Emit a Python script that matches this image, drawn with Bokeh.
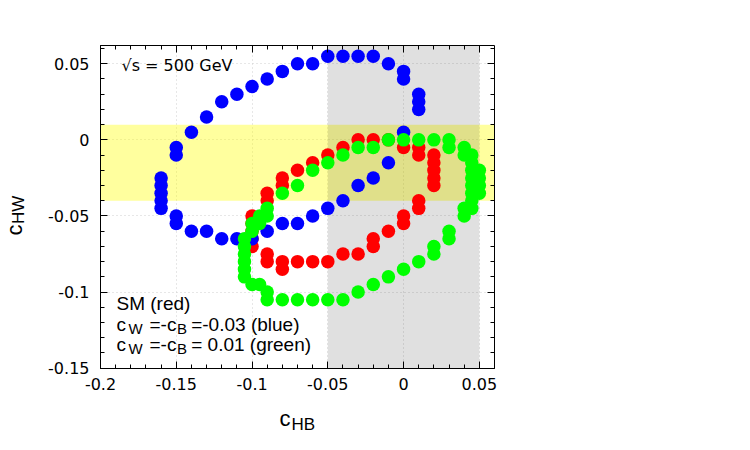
from bokeh.plotting import figure
from bokeh.models import (Range1d, SingleIntervalTicker, LinearAxis, Grid,
                          CustomJSTickFormatter, BoxAnnotation, Label)
from bokeh.embed import file_html
from bokeh.resources import INLINE
import math

# --- scan points in the (c_HB, c_HW) plane -------------------------------
# Standard Model (red)
sm_hb = [-0.09, -0.09, -0.08, -0.08, -0.07, -0.06, -0.05, -0.04, -0.03, -0.02,
         -0.01, 0.00, 0.01, 0.01, 0.02, 0.02, 0.02, 0.02, 0.02,
         0.01, 0.01, 0.00, 0.00, -0.01, -0.02, -0.02, -0.03, -0.04, -0.05,
         -0.06, -0.07, -0.08, -0.08, -0.09, -0.09, -0.10, -0.10, -0.10, -0.10, -0.10]
sm_hw = [-0.035, -0.040, -0.025, -0.030, -0.020, -0.015, -0.010, -0.005, 0.000, 0.000,
         0.000, -0.005, -0.005, -0.010, -0.010, -0.015, -0.020, -0.025, -0.030,
         -0.040, -0.045, -0.050, -0.055, -0.060, -0.065, -0.070, -0.075, -0.075, -0.080,
         -0.080, -0.080, -0.080, -0.085, -0.075, -0.080, -0.070, -0.050, -0.055, -0.060, -0.065]

# c_W = -c_B = -0.03 (blue)
blue_hb = [-0.16, -0.16, -0.16, -0.16, -0.16, -0.15, -0.15, -0.14, -0.13, -0.12,
           -0.11, -0.10, -0.09, -0.08, -0.07, -0.06, -0.05, -0.04, -0.03, -0.02,
           -0.01, 0.00, 0.00, 0.01, 0.01, 0.01, 0.00, -0.01, -0.02, -0.03,
           -0.04, -0.05, -0.06, -0.07, -0.08, -0.09, -0.10, -0.11, -0.12, -0.13,
           -0.14, -0.15, -0.15]
blue_hw = [-0.025, -0.030, -0.035, -0.040, -0.045, -0.005, -0.010, 0.005, 0.015, 0.025,
           0.030, 0.035, 0.040, 0.045, 0.050, 0.050, 0.055, 0.055, 0.055, 0.055,
           0.050, 0.045, 0.040, 0.030, 0.025, 0.020, 0.005, -0.015, -0.025, -0.030,
           -0.040, -0.045, -0.050, -0.055, -0.055, -0.060, -0.065, -0.065, -0.065, -0.060,
           -0.060, -0.055, -0.050]

# c_W = -c_B = 0.01 (green)
green_hb = [-0.09, -0.08, -0.07, -0.06, -0.05, -0.04, -0.03, -0.02, -0.01, 0.00,
            0.01, 0.02, 0.03, 0.03, 0.04, 0.04, 0.045, 0.045, 0.045, 0.045,
            0.045, 0.045, 0.045, 0.045, 0.05, 0.05, 0.05, 0.05, 0.04, 0.04,
            0.03, 0.03, 0.02, 0.02, 0.01, 0.00, -0.01, -0.02, -0.03, -0.04,
            -0.05, -0.06, -0.07, -0.08, -0.09, -0.09, -0.095, -0.10, -0.105, -0.105,
            -0.105, -0.105, -0.105, -0.105, -0.10, -0.10, -0.095, -0.095, -0.09]
green_hw = [-0.045, -0.035, -0.030, -0.020, -0.015, -0.010, -0.005, -0.005, 0.000, 0.000,
            0.000, 0.000, 0.000, -0.005, -0.005, -0.010, -0.010, -0.015, -0.020, -0.025,
            -0.030, -0.035, -0.040, -0.045, -0.020, -0.025, -0.030, -0.035, -0.045, -0.050,
            -0.060, -0.065, -0.070, -0.075, -0.080, -0.085, -0.090, -0.095, -0.100, -0.105,
            -0.105, -0.105, -0.105, -0.105, -0.105, -0.100, -0.095, -0.095, -0.090, -0.085,
            -0.080, -0.075, -0.070, -0.065, -0.060, -0.055, -0.055, -0.050, -0.050]

# allowed regions
hw_band = [-0.04, 0.01]     # horizontal (yellow) band in c_HW
hb_band = [-0.05, 0.05]     # vertical (grey) band in c_HB

x_lim = [-0.2, 0.06]
y_lim = [-0.1502, 0.062]

# --- geometry: the plotting box sits inside a canvas-wide frame ------------
W, H = 750, 450
BL, BT, BW, BH = 100, 45, 394, 323          # box left/top/width/height in px
kx = (x_lim[1] - x_lim[0]) / BW
ky = (y_lim[1] - y_lim[0]) / BH
x_view = (x_lim[0] - BL * kx, x_lim[1] + (W - BL - BW) * kx)
y_view = (y_lim[0] - (H - BT - BH) * ky, y_lim[1] + BT * ky)

p = figure(width=W, height=H, x_range=Range1d(*x_view), y_range=Range1d(*y_view),
           output_backend="svg", toolbar_location=None,
           x_axis_location=None, y_axis_location=None,
           min_border=0, min_border_left=0, min_border_right=0,
           min_border_top=0, min_border_bottom=0,
           background_fill_color="white", border_fill_color="white")
p.outline_line_color = None
p.grid.visible = False

fmt = CustomJSTickFormatter(code="return (Math.round(tick*1000)/1000).toString();")
blank = CustomJSTickFormatter(code="return '';")


def make_axis(fixed, bounds, labels):
    ax = LinearAxis(fixed_location=fixed, bounds=tuple(bounds))
    ax.ticker = SingleIntervalTicker(interval=0.05, num_minor_ticks=5)
    ax.formatter = fmt if labels else blank
    ax.axis_line_color = "black"
    ax.major_tick_line_color = "black"
    ax.minor_tick_line_color = "black"
    ax.major_tick_in = 7
    ax.major_tick_out = 0
    ax.minor_tick_in = 4
    ax.minor_tick_out = 0
    ax.major_label_text_font = "DejaVu Sans"
    ax.major_label_text_font_size = "16px"
    ax.major_label_text_color = "black"
    return ax


bottom_ax = make_axis(y_lim[0], x_lim, True)
bottom_ax.major_label_standoff = 9
left_ax = make_axis(x_lim[0], y_lim, True)
left_ax.major_label_standoff = 11
p.add_layout(bottom_ax, "below")
p.add_layout(left_ax, "left")
p.add_layout(make_axis(y_lim[1], x_lim, False), "above")
p.add_layout(make_axis(x_lim[1], y_lim, False), "right")

# dotted grid restricted to the plotting box
for dim, b, cb in ((0, x_lim, y_lim), (1, y_lim, x_lim)):
    p.add_layout(Grid(dimension=dim, ticker=SingleIntervalTicker(interval=0.05),
                      bounds=tuple(b), cross_bounds=tuple(cb),
                      grid_line_color="#cfcfcf", grid_line_dash="1 3"))

# shaded regions
p.add_layout(BoxAnnotation(left=x_lim[0], right=x_lim[1],
                           bottom=hw_band[0], top=hw_band[1], fill_color="#ffff00",
                           fill_alpha=0.38, line_color=None, level="underlay"))
p.add_layout(BoxAnnotation(left=hb_band[0], right=hb_band[1],
                           bottom=y_lim[0], top=y_lim[1], fill_color="#000000",
                           fill_alpha=0.12, line_color=None, level="underlay"))

# scan points
p.scatter(sm_hb, sm_hw, size=13.5, fill_color="#ff0000", line_color=None)
p.scatter(blue_hb, blue_hw, size=13.5, fill_color="#0000ff", line_color=None)
p.scatter(green_hb, green_hw, size=13.5, fill_color="#00ff00", line_color=None)


# texts, placed in canvas pixels (frame covers the whole canvas)
def txt(px, py, s, size, font="Liberation Sans", angle=0.0):
    p.add_layout(Label(x=px, y=H - py, x_units="screen", y_units="screen",
                       text=s, text_font=font, text_font_size=size, text_color="black",
                       text_baseline="middle", text_align="left", angle=angle))


txt(121, 65, "√s = 500 GeV", "16px", font="DejaVu Sans")

txt(116, 302.5, "SM (red)", "19px")
for mid, tail in ((323.5, "=-0.03 (blue)"), (344, "= 0.01 (green)")):
    txt(116, mid, "c", "19px")
    txt(128, mid + 4, "W", "15px")
    txt(149, mid, "=-c", "19px")
    txt(176.5, mid + 4, "B", "15px")
    txt(190.7, mid, tail, "19px")

# axis titles
txt(279, 417.5, "c", "22px")
txt(291, 424, "HB", "17px")
txt(14.1, 235, "c", "22px", angle=math.pi / 2)
txt(18.1, 223.5, "HW", "17px", angle=math.pi / 2)

open("out.html", "w").write(file_html(p, INLINE))
